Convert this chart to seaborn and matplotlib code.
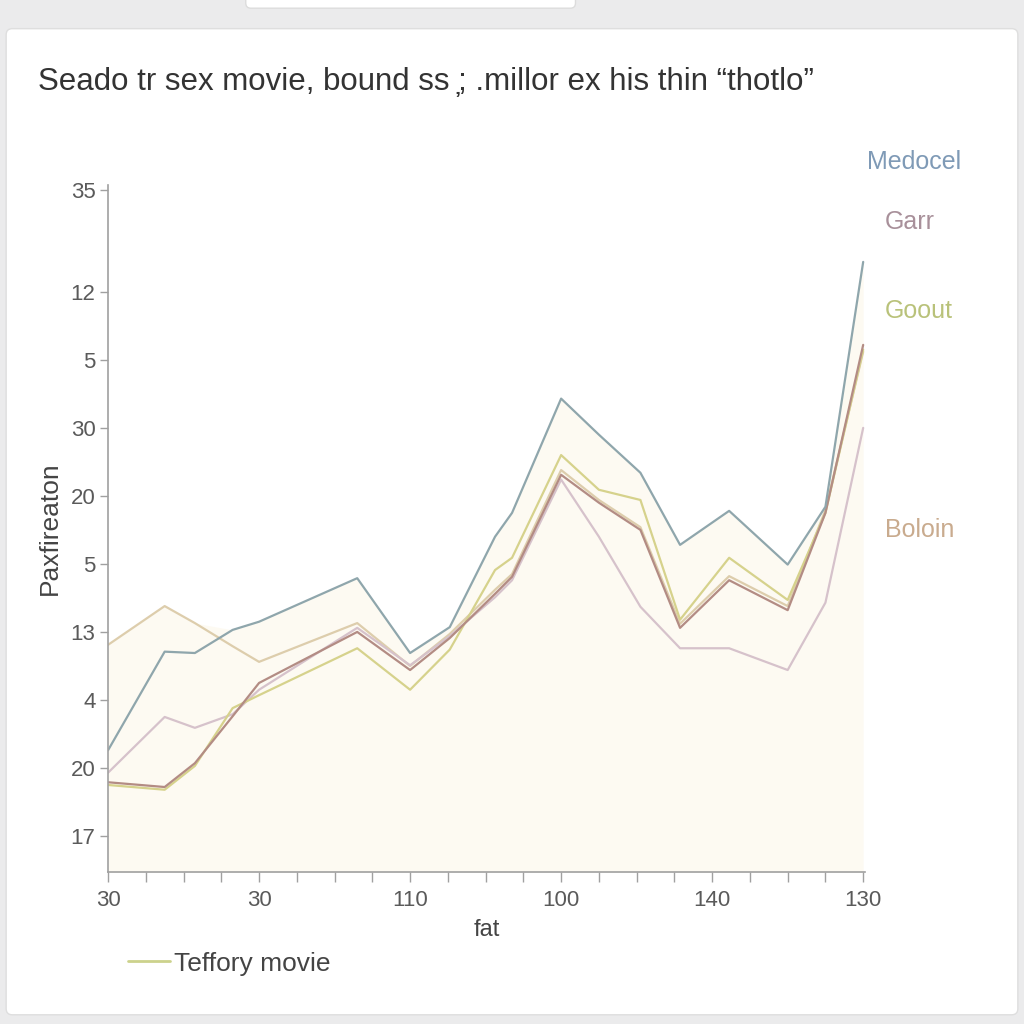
import matplotlib
matplotlib.use("Agg")
import matplotlib.pyplot as plt
from matplotlib.patches import FancyBboxPatch
from matplotlib.lines import Line2D
import seaborn as sns
import pandas as pd
import numpy as np

# ---- data ----
x_pos = [0, 1.5, 2.3, 3.3, 4.0, 6.6, 8.0, 9.05, 10.25, 10.7, 12.0, 13.0, 14.1, 15.15, 16.45, 18.0, 19.0, 20.0]
medocel = [1.26, 2.71, 2.69, 3.03, 3.15, 3.79, 2.69, 3.07, 4.40, 4.75, 6.43, 5.90, 5.34, 4.28, 4.78, 3.99, 4.84, 8.44]
garr = [0.79, 0.72, 1.07, 1.76, 2.25, 3.00, 2.44, 2.91, 3.56, 3.81, 5.31, 4.90, 4.50, 3.06, 3.76, 3.32, 4.75, 7.22]
teffory = [0.75, 0.68, 1.03, 1.88, 2.07, 2.76, 2.15, 2.74, 3.91, 4.09, 5.60, 5.09, 4.94, 3.18, 4.09, 3.47, 4.75, 7.15]
goout = [0.93, 1.75, 1.59, 1.79, 2.15, 3.06, 2.51, 2.94, 3.51, 3.76, 5.24, 4.40, 3.37, 2.76, 2.76, 2.44, 3.43, 6.00]
boloin = [2.81, 3.38, 3.13, 2.79, 2.56, 3.13, 2.50, 2.97, 3.62, 3.85, 5.38, 4.94, 4.54, 3.12, 3.82, 3.38, 4.79, 7.12]

series_names = ["Medocel", "Garr", "Teffory movie", "Goout", "Boloin"]
series_values = [medocel, garr, teffory, goout, boloin]
line_colors = ["#8fa6ac", "#b38c84", "#d6d28c", "#d6c2cb", "#ddcdac"]

y_tick_pos = [0, 1, 2, 3, 4, 5, 6, 7, 8, 9.5]
y_tick_labels = ["17", "20", "4", "13", "5", "20", "30", "5", "12", "35"]
x_major_pos = [0, 4, 8, 12, 16, 20]
x_major_labels = ["30", "30", "110", "100", "140", "130"]

title = "Seado tr sex movie, bound ss \u0326; .millor ex his thin \u201cthotlo\u201d"
x_label = "fat"
y_label = "Paxfireaton"
right_labels = [("Medocel", "#7f9ab6"), ("Garr", "#a8909a"), ("Goout", "#b9c27a"), ("Boloin", "#c9ab8e")]

# ---- build frame ----
rows = []
for name, vals in zip(series_names, series_values):
    for xv, yv in zip(x_pos, vals):
        rows.append({"x": xv, "value": yv, "series": name})
df = pd.DataFrame(rows)

sns.set_theme(style="white")
plt.rcParams["font.family"] = ["Liberation Sans", "DejaVu Sans"]

fig = plt.figure(figsize=(10.24, 10.24), dpi=100, facecolor="#ebebec")
# white panel
fig.patches.append(FancyBboxPatch((0.006, 0.009), 0.988, 0.963, boxstyle="round,pad=0,rounding_size=0.006",
                                  transform=fig.transFigure, facecolor="white", edgecolor="#dedede", lw=1, zorder=-5))
fig.patches.append(FancyBboxPatch((0.24, 0.992), 0.322, 0.02, boxstyle="round,pad=0,rounding_size=0.005",
                                  transform=fig.transFigure, facecolor="white", edgecolor="#dcdcdc", lw=1, zorder=-5))

ax = fig.add_axes([0.1055, 0.1484, 0.7393, 0.6709])
ax.set_facecolor("none")
ax.set_zorder(2)

ylo, yhi = -0.53, 9.57
top_env = np.max(np.array(series_values), axis=0)
ax.fill_between(x_pos, ylo, top_env, color="#fdfaf1", alpha=0.9, lw=0, zorder=0)

palette = dict(zip(series_names, line_colors))
sns.lineplot(data=df, x="x", y="value", hue="series", palette=palette, hue_order=series_names[::-1],
             sort=False, estimator=None, legend=False, linewidth=1.6, ax=ax)

ax.set_xlim(0, 20.05)
ax.set_ylim(ylo, yhi)
ax.set_yticks(y_tick_pos)
ax.set_yticklabels(y_tick_labels)
ax.set_xticks(x_major_pos)
ax.set_xticklabels(x_major_labels)
ax.set_xticks(np.arange(0, 21, 1), minor=True)

for s in ["top", "right"]:
    ax.spines[s].set_visible(False)
for s in ["left", "bottom"]:
    ax.spines[s].set_color("#a0a0a0")
    ax.spines[s].set_linewidth(1.2)

ax.tick_params(axis="y", which="major", direction="out", length=6, width=1, color="#a0a0a0",
               labelsize=16, labelcolor="#5a5a5a", left=True, pad=3)
ax.tick_params(axis="x", which="both", direction="out", length=7, width=1, color="#a0a0a0",
               bottom=True, labelsize=16, labelcolor="#5a5a5a", pad=6)

ax.set_xlabel(x_label, fontsize=17, color="#444444", labelpad=6)
ax.set_ylabel(y_label, fontsize=19, color="#444444", labelpad=6)

fig.text(0.037, 0.92, title, fontsize=22.5, color="#333333", ha="left", va="center")

label_y = [0.842, 0.783, 0.696, 0.482]
label_x = [0.847, 0.864, 0.864, 0.864]
for (txt, col), yy, xx in zip(right_labels, label_y, label_x):
    fig.text(xx, yy, txt, fontsize=18, color=col, ha="left", va="center")

handle = Line2D([], [], color="#ccd28c", lw=2)
fig.legend([handle], ["Teffory movie"], loc="center left", bbox_to_anchor=(0.102, 0.059),
           frameon=False, fontsize=19, handlelength=1.6, handletextpad=0.15, labelcolor="#444444")

fig.savefig("out.png", dpi=100, facecolor=fig.get_facecolor())
